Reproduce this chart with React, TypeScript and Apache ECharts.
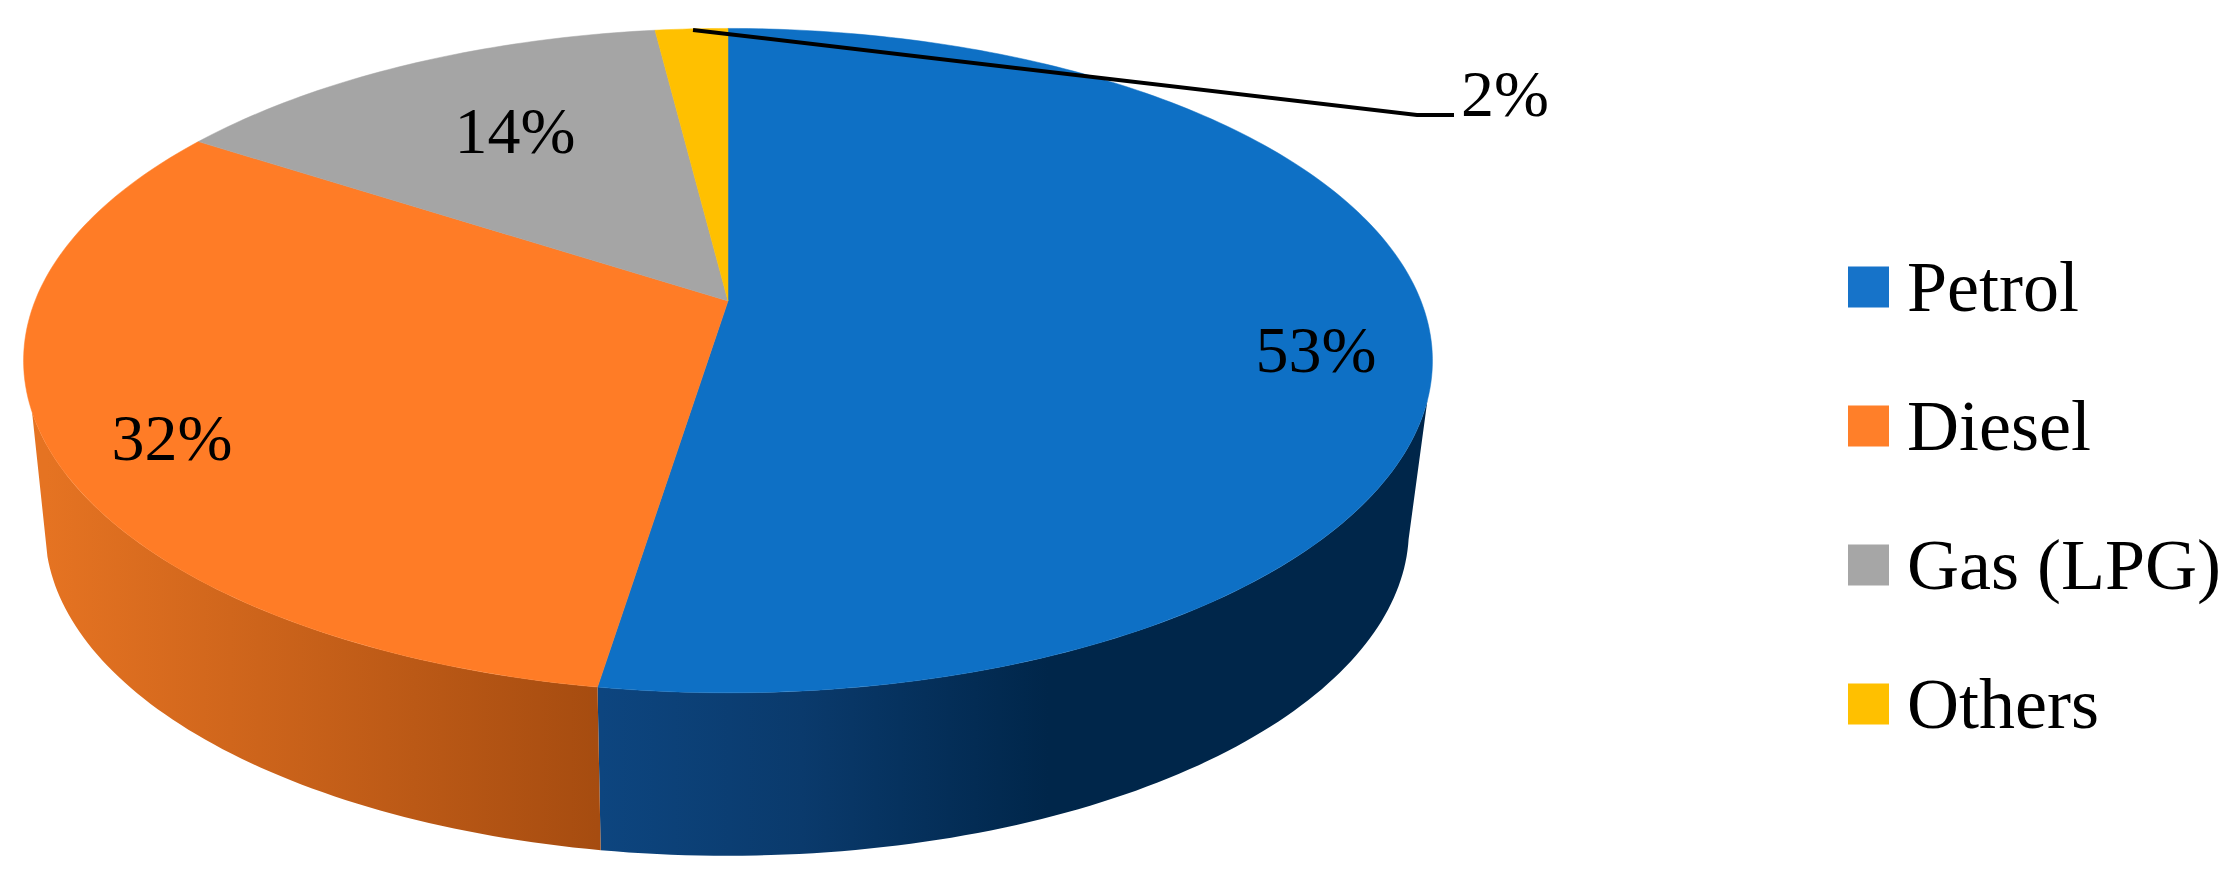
import React, { useEffect, useRef } from "react";
import * as echarts from "echarts";

const categories = ["Petrol", "Diesel", "Gas (LPG)", "Others"];
const values = [53, 32, 14, 2];
const labels = ["53%", "32%", "14%", "2%"];
const faceColors = ["#0E70C5", "#FF7C26", "#A5A5A5", "#FFC000"];
const legendColors = ["#1673C9", "#FF7F29", "#A6A6A6", "#FFC000"];

// layout (not data)
const W = 2226, H = 887;
const FONT = "'Liberation Serif'";
const TOP = { cx: 728, cy: 301, sx: 1, sy: 1 };
const BOT = { cx: 727, cy: 471, sx: 0.968, sy: 0.982 };
const RX = 693, RY = 321.5, PERSP = -0.1795;
const WALL_TOP: [number, number] = [107, 251];
const WALL_BOT: [number, number] = [102, 255];
const LABEL_POS = [[1316, 349], [172, 437], [515, 130], [1505, 93]];
const LEADER = [[693, 30], [1417, 115], [1454, 115]];
const WALL_GRAD: any[] = [
  { x0: 601, x1: 1048, stops: [[0, "#0D457F"], [0.45, "#0A3A6C"], [1, "#00264A"]] },
  { x0: 47, x1: 598, stops: [[0, "#E57322"], [1, "#A64C10"]] },
  null,
  null,
];

const total = values.reduce((a, b) => a + b, 0);
const rad = (d: number) => (d * Math.PI) / 180;

function pt(deg: number, f: any) {
  const u = Math.sin(rad(deg)), v = -Math.cos(rad(deg));
  const w = 1 + PERSP * v;
  return [f.cx + (f.sx * RX * u) / w, f.cy + (f.sy * RY * v) / w];
}
function arc(a: number, b: number, f: any) {
  const out: number[][] = [];
  const n = Math.max(2, Math.ceil(Math.abs(b - a) / 1));
  for (let i = 0; i <= n; i++) out.push(pt(a + ((b - a) * i) / n, f));
  return out;
}

function makeRender(idx: number) {
  return (_p: any, api: any) => {
    const value = api.value(0), before = api.value(1);
    const a = (before / total) * 360, b = ((before + value) / total) * 360;
    const children: any[] = [];
    const g = WALL_GRAD[idx];
    const ta = Math.max(a, WALL_TOP[0]), tb = Math.min(b, WALL_TOP[1]);
    if (g && tb > ta) {
      const ba = a <= WALL_TOP[0] ? WALL_BOT[0] : a, bb = b >= WALL_TOP[1] ? WALL_BOT[1] : b;
      const fill = new echarts.graphic.LinearGradient(
        g.x0, 0, g.x1, 0,
        g.stops.map((s: any) => ({ offset: s[0], color: s[1] })),
        true
      );
      children.push({
        type: "polygon",
        shape: { points: [...arc(ta, tb, TOP), ...arc(bb, ba, BOT)] },
        style: { fill },
      });
    }
    children.push({
      type: "polygon",
      shape: { points: [[TOP.cx, TOP.cy], ...arc(a, b, TOP)] },
      style: { fill: faceColors[idx], stroke: faceColors[idx], lineWidth: 0.5 },
    });
    if (idx === 3) {
      children.push({
        type: "polyline",
        shape: { points: LEADER },
        style: { fill: "none", stroke: "#000", lineWidth: 4 },
      });
    }
    children.push({
      type: "text",
      x: LABEL_POS[idx][0],
      y: LABEL_POS[idx][1],
      style: {
        text: labels[idx],
        fontFamily: FONT,
        fontSize: 66,
        fill: "#000",
        align: "center",
        verticalAlign: "middle",
      },
    });
    return { type: "group", children };
  };
}

export default function App() {
  const ref = useRef<HTMLDivElement>(null);
  useEffect(() => {
    const chart = echarts.init(ref.current!, undefined, { renderer: "svg" });
    let cum = 0;
    const series = categories.map((name, i) => {
      const row = [values[i], cum];
      cum += values[i];
      return {
        type: "custom",
        name,
        coordinateSystem: "none",
        silent: true,
        itemStyle: { color: legendColors[i] },
        data: [row],
        renderItem: makeRender(i),
      };
    });
    chart.setOption({
      animation: false,
      backgroundColor: "#fff",
      legend: {
        orient: "vertical",
        left: 1843,
        top: 246,
        icon: "rect",
        itemWidth: 41,
        itemHeight: 41,
        itemGap: 67,
        data: categories,
        selectedMode: false,
        textStyle: {
          fontFamily: FONT,
          fontSize: 72,
          color: "#000",
          lineHeight: 41,
          padding: [0, 0, 10, 13],
        },
      },
      series,
    });
    return () => chart.dispose();
  }, []);
  return <div ref={ref} style={{ position: "absolute", left: 0, top: 0, width: W, height: H }} />;
}
